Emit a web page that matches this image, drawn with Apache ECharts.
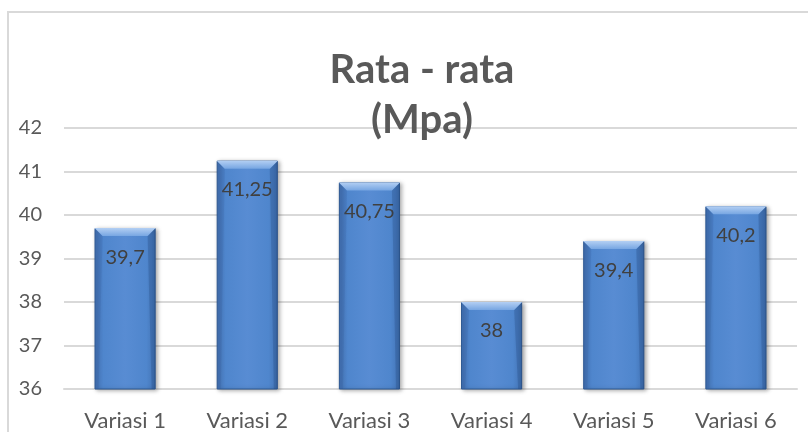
<!DOCTYPE html>
<html>
<head>
<meta charset="utf-8">
<script src="https://cdn.jsdelivr.net/npm/echarts@6/dist/echarts.min.js"></script>
<style>
  html, body { margin: 0; padding: 0; background: #ffffff; }
  #chart { width: 808px; height: 432px; }
</style>
</head>
<body>
<div id="chart"></div>
<script>
// Average strength per mix variation (MPa)
const categories = ['Variasi 1', 'Variasi 2', 'Variasi 3', 'Variasi 4', 'Variasi 5', 'Variasi 6'];
const values = [39.7, 41.25, 40.75, 38, 39.4, 40.2];
const yTicks = { min: 36, max: 42, step: 1 };

const FONT = 'Lato, "Open Sans", sans-serif';
const TEXT = '#595959';

const chart = echarts.init(document.getElementById('chart'), null, { renderer: 'canvas' });

// Bevelled edges drawn on top of each bar, sized from the axis scales
function bevel(params, api) {
  const cat = api.value(0);
  const v = api.value(1);
  const top = api.coord([cat, v]);
  const base = api.coord([cat, yTicks.min]);
  const w = api.size([1, 0])[0] * 0.5;
  const l = top[0] - w / 2, r = top[0] + w / 2, t = top[1], b = base[1];
  const bv = 8;
  return {
    type: 'group',
    children: [
      {
        type: 'polygon',
        shape: { points: [[l, t], [l + bv, t + bv], [l + 4, b], [l, b]] },
        style: { fill: 'rgba(40,80,140,0.14)' }
      },
      {
        type: 'polygon',
        shape: { points: [[r, t], [r - bv, t + bv], [r - 4, b], [r, b]] },
        style: { fill: 'rgba(25,55,105,0.22)' }
      },
      {
        type: 'polygon',
        shape: { points: [[l, t], [r, t], [r - bv, t + bv], [l + bv, t + bv]] },
        style: {
          fill: new echarts.graphic.LinearGradient(0, 0, 0, 1, [
            { offset: 0, color: '#b3cff3' },
            { offset: 1, color: '#77a6e2' }
          ])
        }
      }
    ]
  };
}

chart.setOption({
  animation: false,
  backgroundColor: '#ffffff',
  title: {
    text: 'Rata - rata\n(Mpa)',
    left: 417,
    top: 40,
    textAlign: 'center',
    textStyle: {
      fontFamily: FONT,
      fontWeight: 'bold',
      fontSize: 40,
      lineHeight: 50,
      color: TEXT
    }
  },
  graphic: [
    {
      type: 'rect',
      shape: { x: 8, y: 12, width: 830, height: 450 },
      style: { fill: 'none', stroke: '#d9d9d9', lineWidth: 2 },
      silent: true,
      z: -1
    }
  ],
  grid: { left: 64, right: 11, top: 128, bottom: 41 },
  xAxis: {
    type: 'category',
    data: categories,
    axisLine: { show: true, lineStyle: { color: '#d9d9d9', width: 2 } },
    axisTick: { show: false },
    axisLabel: { fontFamily: FONT, fontSize: 22, color: TEXT, margin: 21 }
  },
  yAxis: {
    type: 'value',
    min: yTicks.min,
    max: yTicks.max,
    interval: yTicks.step,
    axisLine: { show: false },
    axisTick: { show: false },
    splitLine: { lineStyle: { color: '#d9d9d9', width: 2 } },
    axisLabel: { fontFamily: FONT, fontSize: 20, color: TEXT, margin: 22 }
  },
  series: [
    {
      type: 'bar',
      data: values,
      barWidth: '50%',
      itemStyle: {
        color: new echarts.graphic.LinearGradient(0, 0, 1, 0, [
          { offset: 0, color: '#4676b9' },
          { offset: 0.15, color: '#4f86cd' },
          { offset: 0.5, color: '#588cd3' },
          { offset: 0.85, color: '#4f86cd' },
          { offset: 1, color: '#4272b3' }
        ]),
        borderColor: '#2f5a94',
        borderWidth: 1,
        shadowColor: 'rgba(0,0,0,0.35)',
        shadowBlur: 4,
        shadowOffsetX: 2,
        shadowOffsetY: 1
      },
      label: {
        show: true,
        position: 'insideTop',
        distance: 19,
        fontFamily: FONT,
        fontSize: 20,
        color: '#404040',
        formatter: p => String(p.value).replace('.', ',')
      },
      z: 2
    },
    {
      type: 'custom',
      renderItem: bevel,
      data: values.map((v, i) => [i, v]),
      encode: { x: 0, y: 1 },
      silent: true,
      z: 3
    }
  ]
});
</script>
</body>
</html>
